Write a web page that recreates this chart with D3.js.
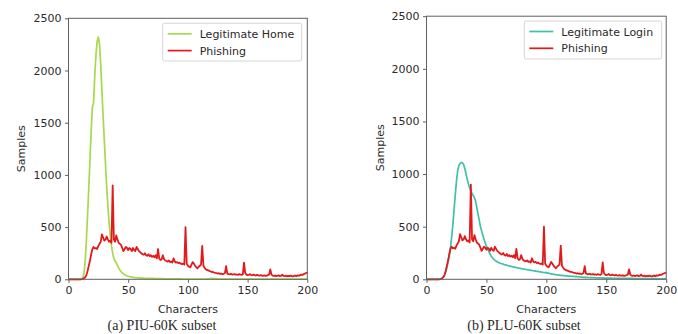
<!DOCTYPE html>
<html><head><meta charset="utf-8">
<script src="https://cdn.jsdelivr.net/npm/d3@7"></script>
<style>
html,body{margin:0;padding:0;background:#fff;}
svg{display:block;}
text{font-family:"DejaVu Sans",sans-serif;fill:#2a2a2a;}
</style></head>
<body><svg id="chart" width="678" height="334"></svg>
<script>
// Characters (x values) 0..200
const characters = d3.range(0, 201);
const xTicks = [0, 50, 100, 150, 200];
const yTicks = [0, 500, 1000, 1500, 2000, 2500];

const phishing = [
  0,0,0,0,0,0,0,0,0,0,
  0,2,5,10,20,40,80,130,180,240,
  290,310,295,300,290,320,340,360,430,400,
  370,380,410,380,360,370,350,900,380,360,
  420,380,350,340,330,300,270,290,310,300,
  280,300,290,270,300,280,270,310,290,270,
  260,250,240,235,250,230,225,240,220,230,
  215,225,210,230,200,290,200,185,190,230,
  195,180,175,170,180,165,170,160,200,170,
  160,165,155,160,150,145,150,140,500,150,
  130,120,115,140,165,150,130,115,105,120,
  130,140,320,130,110,95,90,85,80,75,
  70,70,65,62,60,55,58,52,55,50,
  52,60,125,55,50,48,52,45,48,50,
  44,46,42,50,45,42,48,160,60,45,
  40,42,50,40,38,45,40,36,42,38,
  35,40,36,34,38,33,36,40,45,95,
  45,35,32,36,30,34,38,30,33,45,
  32,30,34,28,32,30,35,30,28,33,
  36,30,38,34,40,45,42,50,55,60,
  65
];

const legitimateHome = [
  0,0,0,0,0,0,0,0,0,0,
  0,3,15,60,180,380,620,880,1150,1420,
  1650,1690,1950,2150,2280,2320,2250,2050,1800,1560,
  1330,1100,880,700,540,420,320,250,200,175,
  160,135,110,90,75,62,52,44,38,33,
  29,26,23,21,19,17,16,15,14,13,
  12,12,11,11,10,10,9,9,9,8,
  8,8,7,7,7,7,6,6,6,6,
  6,5,5,5,5,5,5,4,4,4,
  4,4,4,4,4,3,3,3,3,3,
  3,3,3,3,3,3,3,3,3,3,
  3,3,3,3,3,3,4,5,6,8,
  8,7,6,5,4,3,3,3,2,2,
  2,2,2,2,2,2,2,2,2,2,
  2,2,2,2,2,2,2,2,2,2,
  2,2,2,2,2,2,1,1,1,1,
  1,1,1,1,1,1,1,1,1,1,
  1,1,1,1,1,1,1,1,1,1,
  1,1,1,1,1,1,1,1,1,1,
  1,1,1,1,1,1,1,1,1,1,
  1
];

const legitimateLogin = [
  0,0,0,0,0,0,0,0,0,0,
  0,0,2,8,18,40,70,110,160,220,
  300,400,520,660,800,930,1030,1080,1100,1110,
  1105,1090,1050,1000,950,905,870,840,815,795,
  775,740,680,620,560,500,460,420,380,345,
  315,290,265,240,220,205,192,182,174,166,
  160,156,150,148,144,138,137,132,131,126,
  125,121,120,115,115,111,110,106,105,101,
  100,97,96,93,92,89,88,85,84,81,
  80,78,76,75,72,71,68,67,64,64,
  63,59,58,54,52,50,47,46,43,42,
  40,39,37,37,35,35,33,33,31,31,
  30,29,28,27,26,25,24,23,22,21,
  20,19,19,18,18,17,17,16,16,15,
  15,14,14,14,13,13,13,12,12,12,
  12,11,11,11,11,10,10,10,10,10,
  9,9,9,9,9,9,8,8,8,8,
  8,8,8,7,7,7,7,7,7,7,
  7,6,6,6,6,6,6,6,6,6,
  6,6,6,5,5,5,5,5,5,5,
  5
];

const panels = [
  {label: "Legitimate Home", legit: legitimateHome, legitColor: "#a8d84c", caption: "(a) PIU-60K subset",
   x0: 68.5, x1: 307.3, y0: 279.3, y1: 18.3, lg: {x: 162.7, y: 23.3, w: 139, h: 37.7}, ylab: 21, cap: 162},
  {label: "Legitimate Login", legit: legitimateLogin, legitColor: "#40c0a6", caption: "(b) PLU-60K subset",
   x0: 426.5, x1: 666.2, y0: 279.3, y1: 16.2, lg: {x: 524.3, y: 21, w: 137.4, h: 38}, ylab: 380, cap: 524}
];
const phishColor = "#e31a1c";

const svg = d3.select("#chart");

panels.forEach(p => {
  const x = d3.scaleLinear().domain([0, 200]).range([p.x0, p.x1]);
  const y = d3.scaleLinear().domain([0, 2500]).range([p.y0, p.y1]);
  const g = svg.append("g");

  const line = d3.line().x((d, i) => x(characters[i])).y(d => y(d));

  g.append("path").datum(p.legit).attr("d", line)
    .attr("fill", "none").attr("stroke", p.legitColor).attr("stroke-width", 1.7).attr("stroke-linejoin", "round");
  g.append("path").datum(phishing).attr("d", line)
    .attr("fill", "none").attr("stroke", phishColor).attr("stroke-width", 1.8).attr("stroke-linejoin", "round");

  // frame
  g.append("rect").attr("x", p.x0).attr("y", p.y1).attr("width", p.x1 - p.x0).attr("height", p.y0 - p.y1)
    .attr("fill", "none").attr("stroke", "#606060").attr("stroke-width", 1);

  const xa = g.append("g").attr("transform", `translate(0,${p.y0})`)
    .call(d3.axisBottom(x).tickValues(xTicks).tickSize(3.5).tickPadding(3.5).tickFormat(d3.format("d")));
  const ya = g.append("g").attr("transform", `translate(${p.x0},0)`)
    .call(d3.axisLeft(y).tickValues(yTicks).tickSize(3.5).tickPadding(3.5).tickFormat(d3.format("d")));
  [xa, ya].forEach(a => {
    a.select(".domain").remove();
    a.selectAll("line").attr("stroke", "#606060");
    a.selectAll("text").style("font-family", "DejaVu Sans").style("font-size", "11px").attr("fill", "#2a2a2a");
  });

  g.append("text").attr("x", (p.x0 + p.x1) / 2).attr("y", 312.5).attr("text-anchor", "middle")
    .style("font-size", "11px").text("Characters");
  g.append("text").attr("transform", `translate(${p.ylab + 4},${(p.y0 + p.y1) / 2}) rotate(-90)`)
    .attr("text-anchor", "middle").style("font-size", "11px").text("Samples");

  // legend
  const lg = g.append("g");
  lg.append("rect").attr("x", p.lg.x).attr("y", p.lg.y).attr("width", p.lg.w).attr("height", p.lg.h)
    .attr("rx", 2).attr("fill", "#fff").attr("stroke", "#d6d6d6");
  const items = [{t: p.label, c: p.legitColor}, {t: "Phishing", c: phishColor}];
  items.forEach((it, i) => {
    const yy = p.lg.y + 10.5 + i * 16.8;
    lg.append("line").attr("x1", p.lg.x + 5).attr("x2", p.lg.x + 29).attr("y1", yy).attr("y2", yy)
      .attr("stroke", it.c).attr("stroke-width", 1.7);
    lg.append("text").attr("x", p.lg.x + 37).attr("y", yy + 4).style("font-size", "11px").text(it.t);
  });

  g.append("text").attr("x", p.cap).attr("y", 330).attr("text-anchor", "middle")
    .style("font-family", "'Liberation Serif', serif").style("font-size", "14px").attr("fill", "#111")
    .text(p.caption);
});
</script>
</body></html>
